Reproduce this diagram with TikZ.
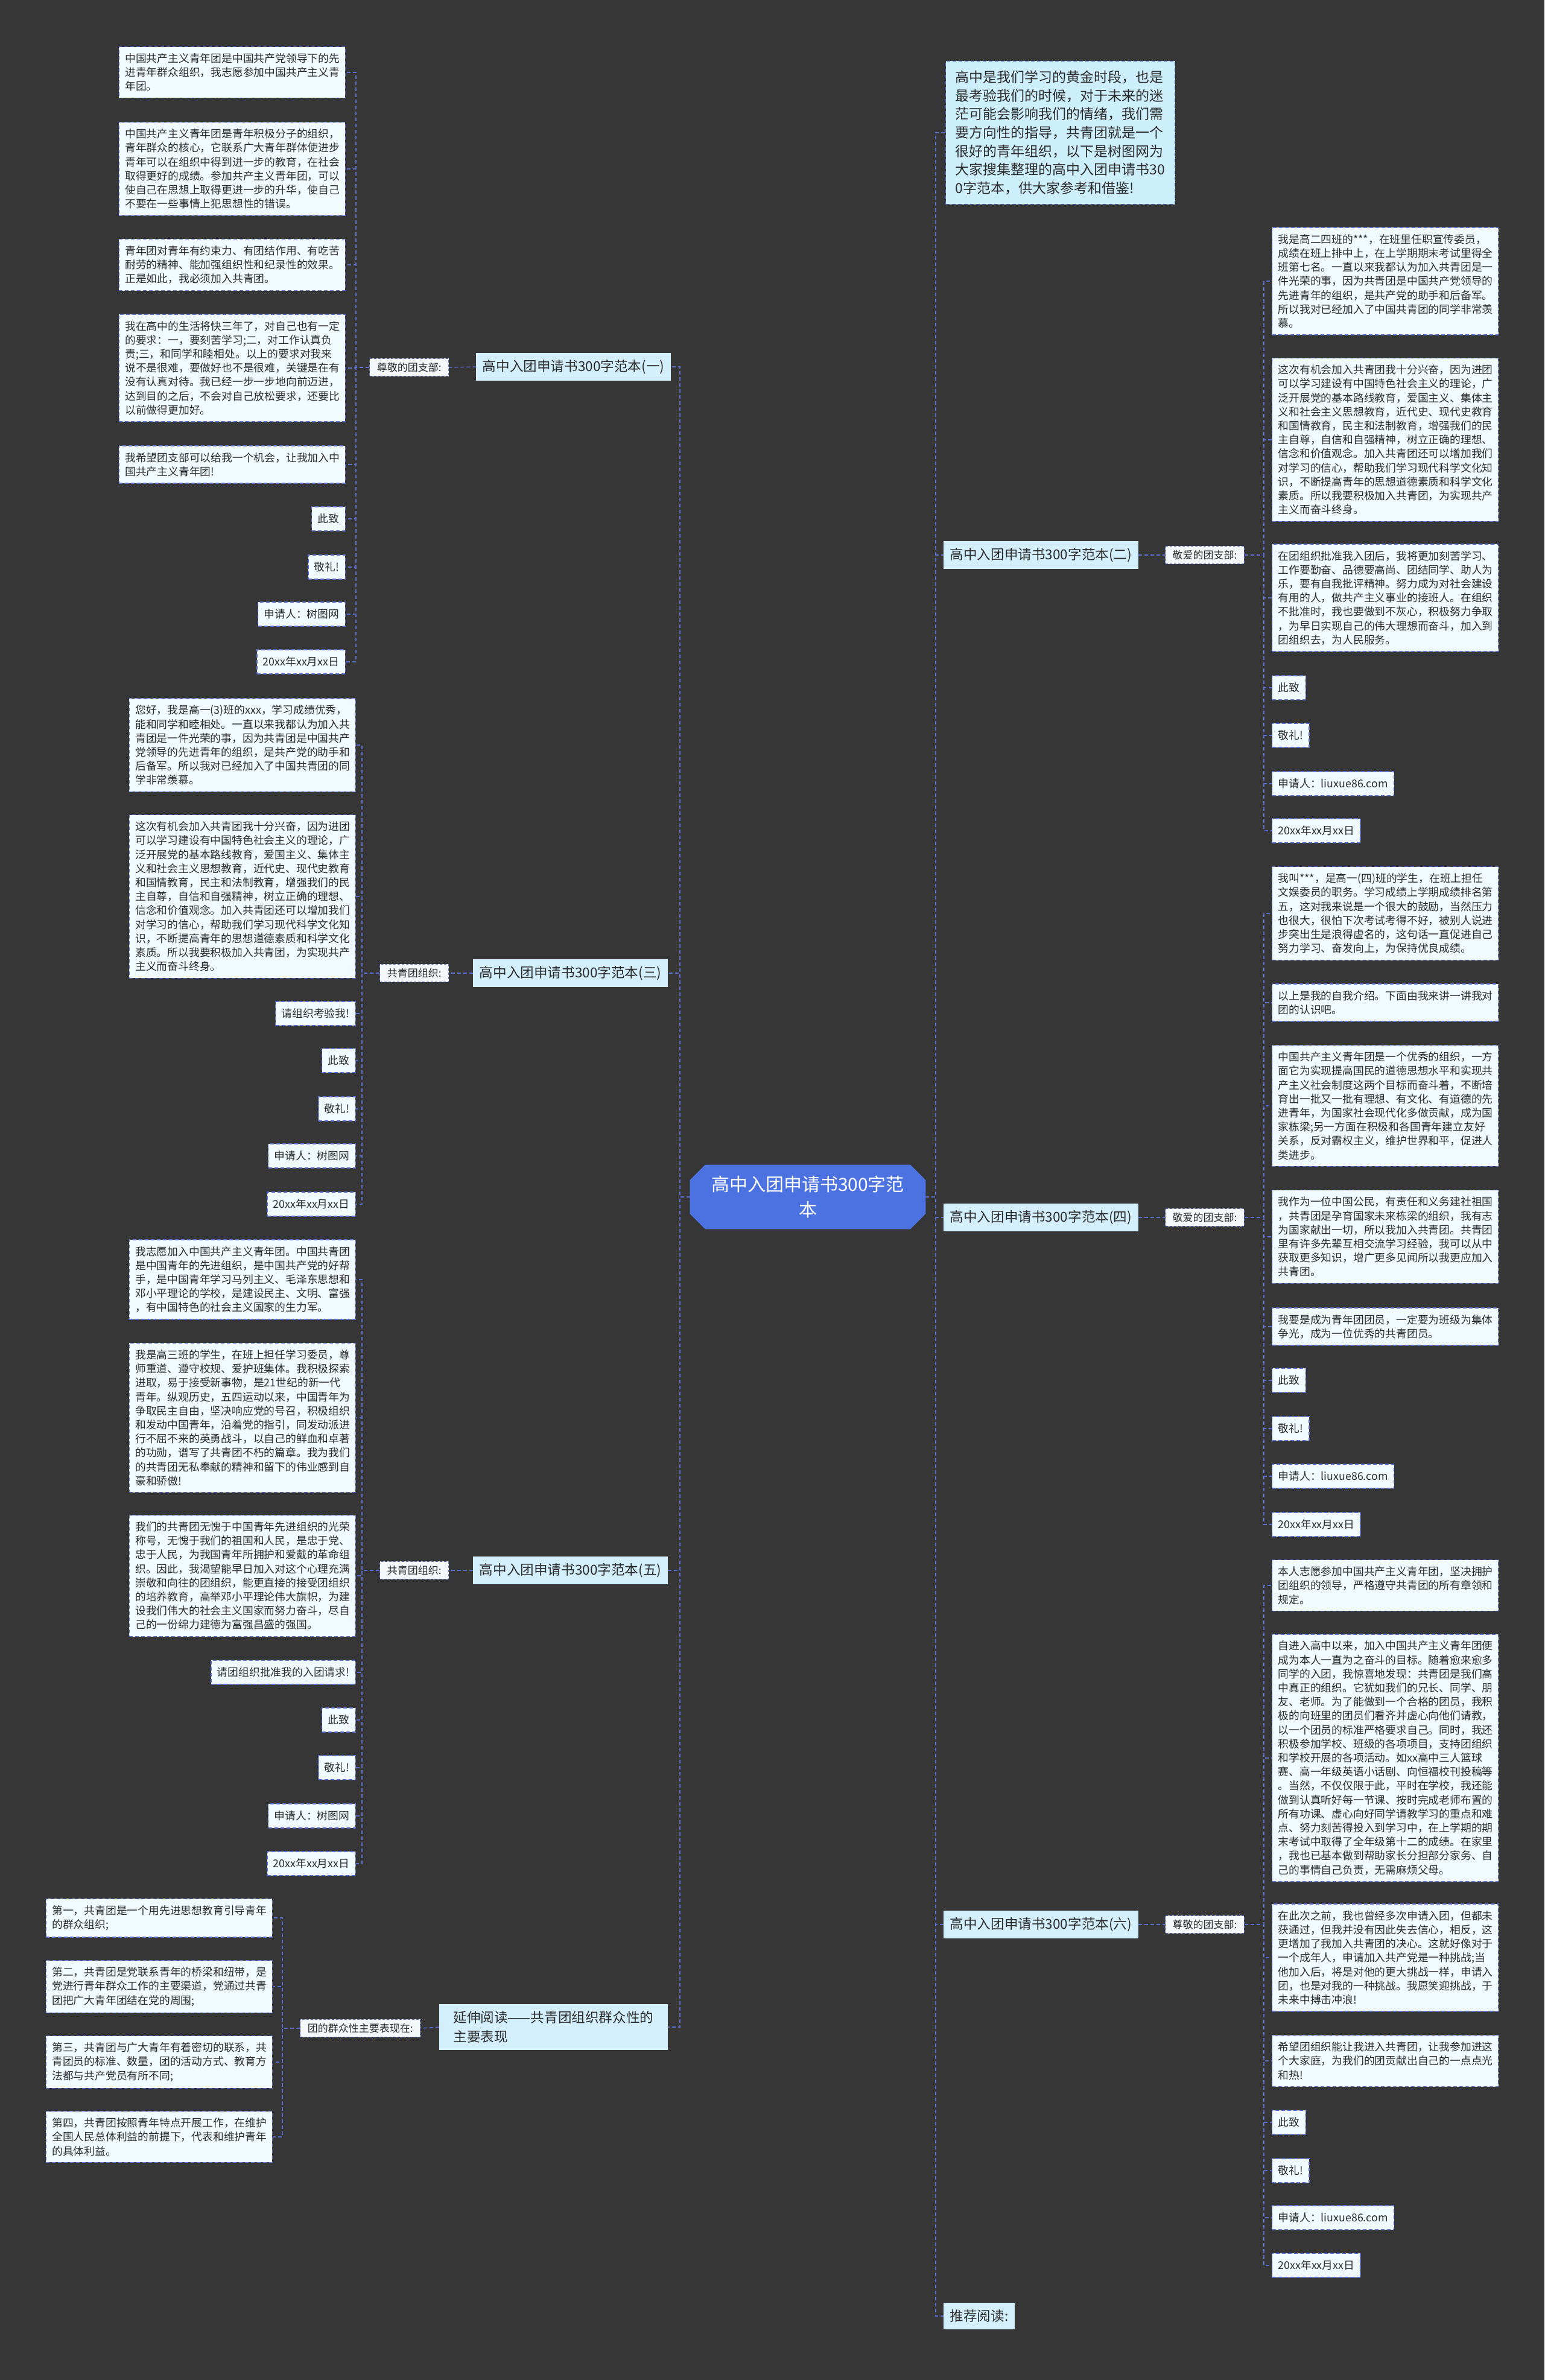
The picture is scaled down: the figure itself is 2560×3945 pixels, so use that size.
\documentclass[tikz,border=0pt]{standalone}
\usepackage{fontspec}
\setmainfont{Noto Sans CJK SC}
\usepackage{xcolor}
\usetikzlibrary{positioning,shapes.misc}
\definecolor{bgdark}{HTML}{363636}
\definecolor{ink}{HTML}{2B2B2B}
\definecolor{linkblue}{HTML}{5B6FD2}
\definecolor{leafbg}{HTML}{F1FAFE}
\definecolor{introbg}{HTML}{CDEEFB}
\definecolor{branchbg}{HTML}{D2EFFB}
\definecolor{labelbg}{HTML}{F4F8FA}
\definecolor{rootblue}{HTML}{4B72E0}
\newcommand{\leaffont}{\fontsize{8.9pt}{11.6pt}\selectfont}
\newcommand{\jointuan}{这次有机会加入共青团我十分兴奋，因为进团\\可以学习建设有中国特色社会主义的理论，广\\泛开展党的基本路线教育，爱国主义、集体主\\义和社会主义思想教育，近代史、现代史教育\\和国情教育，民主和法制教育，增强我们的民\\主自尊，自信和自强精神，树立正确的理想、\\信念和价值观念。加入共青团还可以增加我们\\对学习的信心，帮助我们学习现代科学文化知\\识，不断提高青年的思想道德素质和科学文化\\素质。所以我要积极加入共青团，为实现共产\\主义而奋斗终身。}
\tikzset{
  root/.style={chamfered rectangle, chamfered rectangle xsep=9pt,
               fill=rootblue, draw=rootblue, text=white,
               minimum width=195pt, minimum height=53pt, align=center,
               font=\fontsize{15pt}{21pt}\selectfont, inner sep=2pt},
  branch/.style={fill=branchbg, draw=branchbg, text=ink, line width=0.6pt,
                 inner xsep=5pt, inner ysep=5.5pt,
                 font=\fontsize{11.3pt}{16pt}\selectfont},
  intro/.style={fill=introbg, draw=linkblue, dash pattern=on 3pt off 2pt,
                line width=0.7pt, text=ink, text width=174pt, align=left,
                inner xsep=8pt, inner ysep=8pt,
                font=\fontsize{11.5pt}{15.3pt}\selectfont},
  tag/.style={fill=labelbg, draw=linkblue, dash pattern=on 2pt off 1.5pt,
              line width=0.5pt, text=ink, inner xsep=6pt, inner ysep=3.5pt,
              font=\fontsize{8.5pt}{10pt}\selectfont},
  leaf/.style={fill=leafbg, draw=linkblue, dash pattern=on 3pt off 2pt,
               line width=0.7pt, text=ink, inner xsep=5pt, inner ysep=5.5pt,
               minimum height=20pt, font=\leaffont},
  leafwide/.style={leaf, text width=177.5pt, align=left},
  link/.style={draw=linkblue, line width=0.75pt, dash pattern=on 3pt off 2pt}
}
\begin{document}
\begin{tikzpicture}[x=0.5pt,y=-0.5pt]
  \fill[bgdark] (0,0) rectangle (2560,3945);
  \useasboundingbox (0,0) rectangle (2560,3945);
  % centre and main branches
  \node[root] (root) at (1339,1984) {高中入团申请书300字范\\本};
  \coordinate (spL) at (1127,0);
  \coordinate (spR) at (1551,0);
  \node[branch,anchor=east] (br1) at (1112,608) {高中入团申请书300字范本(一)};
  \node[branch,anchor=east] (br3) at (1107,1613) {高中入团申请书300字范本(三)};
  \node[branch,anchor=east] (br5) at (1107,2603) {高中入团申请书300字范本(五)};
  \node[branch,anchor=east,align=left,minimum width=189pt] (ext) at (1107,3360) {延伸阅读——共青团组织群众性的\\主要表现};
  \node[intro,anchor=west] (intro) at (1567,220) {高中是我们学习的黄金时段，也是\\最考验我们的时候，对于未来的迷\\茫可能会影响我们的情绪，我们需\\要方向性的指导，共青团就是一个\\很好的青年组织，以下是树图网为\\大家搜集整理的高中入团申请书30\\0字范本，供大家参考和借鉴!};
  \node[branch,anchor=west] (br2) at (1564,920) {高中入团申请书300字范本(二)};
  \node[branch,anchor=west] (br4) at (1564,2018) {高中入团申请书300字范本(四)};
  \node[branch,anchor=west] (br6) at (1564,3190) {高中入团申请书300字范本(六)};
  \node[branch,anchor=west] (rec) at (1564,3839) {推荐阅读:};
  \foreach \n in {br1,br3,br5,ext}
    \draw[link] (root.west) -- (root.west -| spL) |- (\n.east);
  \foreach \n in {intro,br2,br4,br6,rec}
    \draw[link] (root.east) -- (root.east -| spR) |- (\n.west);

  % tags
  \node[tag,anchor=east] (lab1) at (744,609) {尊敬的团支部:};
  \node[tag,anchor=east] (lab3) at (744,1613) {共青团组织:};
  \node[tag,anchor=east] (lab5) at (744,2603) {共青团组织:};
  \node[tag,anchor=east] (labx) at (697,3362) {团的群众性主要表现在:};
  \node[tag,anchor=west] (lab2) at (1931,920) {敬爱的团支部:};
  \node[tag,anchor=west] (lab4) at (1931,2018) {敬爱的团支部:};
  \node[tag,anchor=west] (lab6) at (1931,3190) {尊敬的团支部:};
  \draw[link] (br1.west) -- (lab1.east);
  \draw[link] (br3.west) -- (lab3.east);
  \draw[link] (br5.west) -- (lab5.east);
  \draw[link] (ext.west) -- (labx.east);
  \draw[link] (br2.east) -- (lab2.west);
  \draw[link] (br4.east) -- (lab4.west);
  \draw[link] (br6.east) -- (lab6.west);

  % branch (一)
  \coordinate (sp1) at (590,0);
  \node[leafwide,anchor=east] (p1a) at (573,120) {中国共产主义青年团是中国共产党领导下的先\\进青年群众组织，我志愿参加中国共产主义青\\年团。};
  \node[leafwide,anchor=east] (p1b) at (573,280) {中国共产主义青年团是青年积极分子的组织，\\青年群众的核心，它联系广大青年群体使进步\\青年可以在组织中得到进一步的教育，在社会\\取得更好的成绩。参加共产主义青年团，可以\\使自己在思想上取得更进一步的升华，使自己\\不要在一些事情上犯思想性的错误。};
  \node[leafwide,anchor=east] (p1c) at (573,439) {青年团对青年有约束力、有团结作用、有吃苦\\耐劳的精神、能加强组织性和纪录性的效果。\\正是如此，我必须加入共青团。};
  \node[leafwide,anchor=east] (p1d) at (573,610) {我在高中的生活将快三年了，对自己也有一定\\的要求：一，要刻苦学习;二，对工作认真负\\责;三，和同学和睦相处。以上的要求对我来\\说不是很难，要做好也不是很难，关键是在有\\没有认真对待。我已经一步一步地向前迈进，\\达到目的之后，不会对自己放松要求，还要比\\以前做得更加好。};
  \node[leafwide,anchor=east] (p1e) at (573,770) {我希望团支部可以给我一个机会，让我加入中\\国共产主义青年团!};
  \foreach \t/\y [count=\i] in {此致/860,敬礼!/940,申请人：树图网/1018,20xx年xx月xx日/1097}
    \node[leaf,anchor=east] (c1\i) at (573,\y) {\t};
  \foreach \n in {p1a,p1b,p1c,p1d,p1e,c11,c12,c13,c14}
    \draw[link] (lab1.west) -- (lab1.west -| sp1) |- (\n.east);

  % branch (三)
  \coordinate (sp3) at (600,0);
  \node[leafwide,anchor=east] (p3a) at (590,1235) {您好，我是高一(3)班的xxx，学习成绩优秀，\\能和同学和睦相处。一直以来我都认为加入共\\青团是一件光荣的事，因为共青团是中国共产\\党领导的先进青年的组织，是共产党的助手和\\后备军。所以我对已经加入了中国共青团的同\\学非常羡慕。};
  \node[leafwide,anchor=east] (p3b) at (590,1486) {\jointuan};
  \foreach \t/\y [count=\i] in {请组织考验我!/1680,此致/1758,敬礼!/1838,申请人：树图网/1916,20xx年xx月xx日/1996}
    \node[leaf,anchor=east] (c3\i) at (590,\y) {\t};
  \foreach \n in {p3a,p3b,c31,c32,c33,c34,c35}
    \draw[link] (lab3.west) -- (lab3.west -| sp3) |- (\n.east);

  % branch (五)
  \coordinate (sp5) at (600,0);
  \node[leafwide,anchor=east] (p5a) at (590,2121) {我志愿加入中国共产主义青年团。中国共青团\\是中国青年的先进组织，是中国共产党的好帮\\手，是中国青年学习马列主义、毛泽东思想和\\邓小平理论的学校，是建设民主、文明、富强\\，有中国特色的社会主义国家的生力军。};
  \node[leafwide,anchor=east] (p5b) at (590,2350) {我是高三班的学生，在班上担任学习委员，尊\\师重道、遵守校规、爱护班集体。我积极探索\\进取，易于接受新事物，是21世纪的新一代\\青年。纵观历史，五四运动以来，中国青年为\\争取民主自由，坚决响应党的号召，积极组织\\和发动中国青年，沿着党的指引，同发动派进\\行不屈不来的英勇战斗，以自己的鲜血和卓著\\的功勋，谱写了共青团不朽的篇章。我为我们\\的共青团无私奉献的精神和留下的伟业感到自\\豪和骄傲!};
  \node[leafwide,anchor=east] (p5c) at (590,2612) {我们的共青团无愧于中国青年先进组织的光荣\\称号，无愧于我们的祖国和人民，是忠于党、\\忠于人民，为我国青年所拥护和爱戴的革命组\\织。因此，我渴望能早日加入对这个心理充满\\崇敬和向往的团组织，能更直接的接受团组织\\的培养教育，高举邓小平理论伟大旗帜，为建\\设我们伟大的社会主义国家而努力奋斗，尽自\\己的一份绵力建德为富强昌盛的强国。};
  \foreach \t/\y [count=\i] in {请团组织批准我的入团请求!/2772,此致/2851,敬礼!/2930,申请人：树图网/3010,20xx年xx月xx日/3089}
    \node[leaf,anchor=east] (c5\i) at (590,\y) {\t};
  \foreach \n in {p5a,p5b,p5c,c51,c52,c53,c54,c55}
    \draw[link] (lab5.west) -- (lab5.west -| sp5) |- (\n.east);

  % extended reading
  \coordinate (spx) at (468,0);
  \node[leafwide,anchor=east] (e1) at (452,3179) {第一，共青团是一个用先进思想教育引导青年\\的群众组织;};
  \node[leafwide,anchor=east] (e2) at (452,3293) {第二，共青团是党联系青年的桥梁和纽带，是\\党进行青年群众工作的主要渠道，党通过共青\\团把广大青年团结在党的周围;};
  \node[leafwide,anchor=east] (e3) at (452,3418) {第三，共青团与广大青年有着密切的联系，共\\青团员的标准、数量，团的活动方式、教育方\\法都与共产党员有所不同;};
  \node[leafwide,anchor=east] (e4) at (452,3542) {第四，共青团按照青年特点开展工作，在维护\\全国人民总体利益的前提下，代表和维护青年\\的具体利益。};
  \foreach \n in {e1,e2,e3,e4}
    \draw[link] (labx.west) -- (labx.west -| spx) |- (\n.east);

  % branch (二)
  \coordinate (sp2) at (2095,0);
  \node[leafwide,anchor=west] (q2a) at (2108,466) {我是高二四班的***，在班里任职宣传委员，\\成绩在班上排中上，在上学期期末考试里得全\\班第七名。一直以来我都认为加入共青团是一\\件光荣的事，因为共青团是中国共产党领导的\\先进青年的组织，是共产党的助手和后备军。\\所以我对已经加入了中国共青团的同学非常羡\\慕。};
  \node[leafwide,anchor=west] (q2b) at (2108,729) {\jointuan};
  \node[leafwide,anchor=west] (q2c) at (2108,991) {在团组织批准我入团后，我将更加刻苦学习、\\工作要勤奋、品德要高尚、团结同学、助人为\\乐，要有自我批评精神。努力成为对社会建设\\有用的人，做共产主义事业的接班人。在组织\\不批准时，我也要做到不灰心，积极努力争取\\，为早日实现自己的伟大理想而奋斗，加入到\\团组织去，为人民服务。};
  \foreach \t/\y [count=\i] in {此致/1140,敬礼!/1219,申请人：liuxue86.com/1299,20xx年xx月xx日/1377}
    \node[leaf,anchor=west] (d2\i) at (2108,\y) {\t};
  \foreach \n in {q2a,q2b,q2c,d21,d22,d23,d24}
    \draw[link] (lab2.east) -- (lab2.east -| sp2) |- (\n.west);

  % branch (四)
  \coordinate (sp4) at (2095,0);
  \node[leafwide,anchor=west] (q4a) at (2108,1514) {我叫***，是高一(四)班的学生，在班上担任\\文娱委员的职务。学习成绩上学期成绩排名第\\五，这对我来说是一个很大的鼓励，当然压力\\也很大，很怕下次考试考得不好，被别人说进\\步突出生是浪得虚名的，这句话一直促进自己\\努力学习、奋发向上，为保持优良成绩。};
  \node[leafwide,anchor=west] (q4b) at (2108,1662) {以上是我的自我介绍。下面由我来讲一讲我对\\团的认识吧。};
  \node[leafwide,anchor=west] (q4c) at (2108,1833) {中国共产主义青年团是一个优秀的组织，一方\\面它为实现提高国民的道德思想水平和实现共\\产主义社会制度这两个目标而奋斗着，不断培\\育出一批又一批有理想、有文化、有道德的先\\进青年，为国家社会现代化多做贡献，成为国\\家栋梁;另一方面在积极和各国青年建立友好\\关系，反对霸权主义，维护世界和平，促进人\\类进步。};
  \node[leafwide,anchor=west] (q4d) at (2108,2050) {我作为一位中国公民，有责任和义务建社祖国\\，共青团是孕育国家未来栋梁的组织，我有志\\为国家献出一切，所以我加入共青团。共青团\\里有许多先辈互相交流学习经验，我可以从中\\获取更多知识，增广更多见闻所以我更应加入\\共青团。};
  \node[leafwide,anchor=west] (q4e) at (2108,2199) {我要是成为青年团团员，一定要为班级为集体\\争光，成为一位优秀的共青团员。};
  \foreach \t/\y [count=\i] in {此致/2288,敬礼!/2368,申请人：liuxue86.com/2447,20xx年xx月xx日/2527}
    \node[leaf,anchor=west] (d4\i) at (2108,\y) {\t};
  \foreach \n in {q4a,q4b,q4c,q4d,q4e,d41,d42,d43,d44}
    \draw[link] (lab4.east) -- (lab4.east -| sp4) |- (\n.west);

  % branch (六)
  \coordinate (sp6) at (2095,0);
  \node[leafwide,anchor=west] (q6a) at (2108,2628) {本人志愿参加中国共产主义青年团，坚决拥护\\团组织的领导，严格遵守共青团的所有章领和\\规定。};
  \node[leafwide,anchor=west] (q6b) at (2108,2914) {自进入高中以来，加入中国共产主义青年团便\\成为本人一直为之奋斗的目标。随着愈来愈多\\同学的入团，我惊喜地发现：共青团是我们高\\中真正的组织。它犹如我们的兄长、同学、朋\\友、老师。为了能做到一个合格的团员，我积\\极的向班里的团员们看齐并虚心向他们请教，\\以一个团员的标准严格要求自己。同时，我还\\积极参加学校、班级的各项项目，支持团组织\\和学校开展的各项活动。如xx高中三人篮球\\赛、高一年级英语小话剧、向恒福校刊投稿等\\。当然，不仅仅限于此，平时在学校，我还能\\做到认真听好每一节课、按时完成老师布置的\\所有功课、虚心向好同学请教学习的重点和难\\点、努力刻苦得投入到学习中，在上学期的期\\末考试中取得了全年级第十二的成绩。在家里\\，我也已基本做到帮助家长分担部分家务、自\\己的事情自己负责，无需麻烦父母。};
  \node[leafwide,anchor=west] (q6c) at (2108,3245) {在此次之前，我也曾经多次申请入团，但都未\\获通过，但我并没有因此失去信心，相反，这\\更增加了我加入共青团的决心。这就好像对于\\一个成年人，申请加入共产党是一种挑战;当\\他加入后，将是对他的更大挑战一样，申请入\\团，也是对我的一种挑战。我愿笑迎挑战，于\\未来中搏击冲浪!};
  \node[leafwide,anchor=west] (q6d) at (2108,3416) {希望团组织能让我进入共青团，让我参加进这\\个大家庭，为我们的团贡献出自己的一点点光\\和热!};
  \foreach \t/\y [count=\i] in {此致/3518,敬礼!/3598,申请人：liuxue86.com/3676,20xx年xx月xx日/3755}
    \node[leaf,anchor=west] (d6\i) at (2108,\y) {\t};
  \foreach \n in {q6a,q6b,q6c,q6d,d61,d62,d63,d64}
    \draw[link] (lab6.east) -- (lab6.east -| sp6) |- (\n.west);
\end{tikzpicture}
\end{document}
